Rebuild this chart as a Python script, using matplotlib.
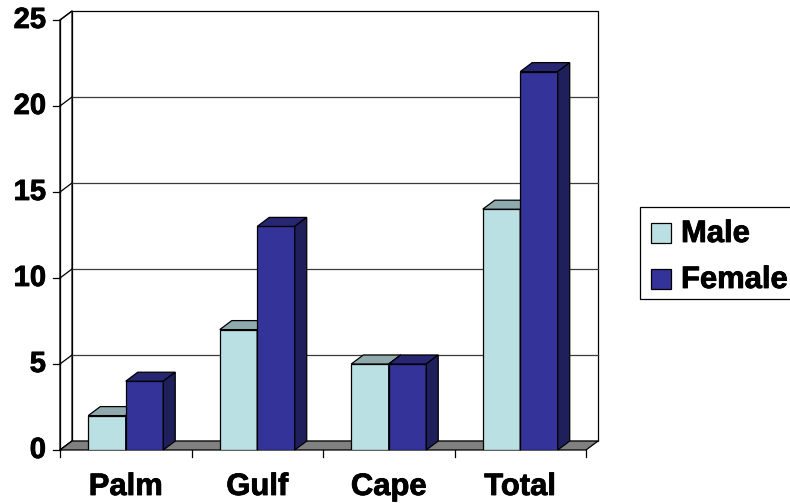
import matplotlib
matplotlib.use("Agg")
import matplotlib.pyplot as plt
from matplotlib.patches import Polygon, Rectangle
import matplotlib.patheffects as pe

categories = ["Palm", "Gulf", "Cape", "Total"]
male = [2, 7, 5, 14]
female = [4, 13, 5, 22]
yticks = [0, 5, 10, 15, 20, 25]
series_names = ["Male", "Female"]

W, H = 790, 503
fig = plt.figure(figsize=(W / 100, H / 100), dpi=100)
# front plane: x 0..4 -> px 60..586 ; y 0..25 -> px 450..20
ax = fig.add_axes([60 / W, (H - 450) / H, 526 / W, 430 / H])
ax.set_xlim(0, 4)
ax.set_ylim(0, 25)
ax.axis("off")

pxx = 526 / 4.0
pxy = 430 / 25.0
dx = 12 / pxx
dy = 9 / pxy
lw = 0.9
font = "Liberation Sans"
fs_y = 21
fs = 22.3
heavy = [pe.withStroke(linewidth=0.6, foreground="black")]

ncat = len(categories)
ymax = yticks[-1]

# back wall
ax.add_patch(Rectangle((dx, dy), ncat, ymax, facecolor="white", edgecolor="black",
                       lw=lw, zorder=1, clip_on=False))
# side wall
ax.add_patch(Polygon([(0, 0), (dx, dy), (dx, ymax + dy), (0, ymax)], closed=True,
                     facecolor="white", edgecolor="black", lw=lw, zorder=1, clip_on=False))
# gridlines
for v in yticks[1:-1]:
    ax.plot([dx, ncat + dx], [v + dy, v + dy], color="#3a3a3a", lw=lw, zorder=1.5, clip_on=False)
for v in yticks:
    ax.plot([0, dx], [v, v + dy], color="black", lw=lw, zorder=1.5, clip_on=False)
# floor
ax.add_patch(Polygon([(0, 0), (ncat, 0), (ncat + dx, dy), (dx, dy)], closed=True,
                     facecolor="#808080", edgecolor="black", lw=lw, zorder=2, clip_on=False))

# y axis ticks and labels
for v in yticks:
    ax.plot([-7 / pxx, 0], [v, v], color="black", lw=lw, clip_on=False, zorder=2)
    ax.text(-14 / pxx, v, str(v), ha="right", va="center", fontsize=fs_y,
            fontweight="bold", family=font, clip_on=False, path_effects=heavy)
ax.plot([0, 0], [0, ymax], color="black", lw=lw, clip_on=False, zorder=2)
# x ticks
for i in range(ncat + 1):
    ax.plot([i, i], [0, -7 / pxy], color="black", lw=lw, clip_on=False, zorder=2)
for i, c in enumerate(categories):
    ax.text(i + 0.5, -45 / pxy, c, ha="center", va="baseline", fontsize=fs,
            fontweight="bold", family=font, clip_on=False, path_effects=heavy)

bw = 0.285
styles = [
    dict(face="#BBE0E3", top="#8FAAAD", side="#7E9799"),
    dict(face="#333399", top="#262673", side="#1F1F5C"),
]


def draw_bars(vals, offset, st, z):
    xs = [i + 0.5 + offset for i in range(ncat)]
    ax.bar(xs, vals, width=bw, align="edge", color=st["face"], edgecolor="black",
           lw=lw, zorder=z)
    for x0, v in zip(xs, vals):
        x1 = x0 + bw
        ax.add_patch(Polygon([(x0, v), (x1, v), (x1 + dx, v + dy), (x0 + dx, v + dy)],
                             closed=True, facecolor=st["top"], edgecolor="black",
                             lw=lw, zorder=z + 0.5, clip_on=False))
        ax.add_patch(Polygon([(x1, 0), (x1 + dx, dy), (x1 + dx, v + dy), (x1, v)],
                             closed=True, facecolor=st["side"], edgecolor="black",
                             lw=lw, zorder=z + 0.5, clip_on=False))


draw_bars(male, -bw, styles[0], 3)
draw_bars(female, 0.0, styles[1], 5)

# legend (figure pixel coords)
def fx(x):
    return x / W


def fy(y):
    return (H - y) / H


fig.patches.append(Rectangle((fx(640), fy(299)), fx(170), 92 / H, transform=fig.transFigure,
                             facecolor="white", edgecolor="black", lw=lw, figure=fig))
for k, (name, st) in enumerate(zip(series_names, styles)):
    top = 223 + 46 * k
    fig.patches.append(Rectangle((fx(651), fy(top + 20)), 20 / W, 20 / H,
                                 transform=fig.transFigure, facecolor=st["face"],
                                 edgecolor="black", lw=lw, figure=fig))
    fig.text(fx(681), fy(top + 19), name, ha="left", va="baseline", fontsize=fs,
             fontweight="bold", family=font, path_effects=heavy)

fig.savefig("out.png", dpi=100)
